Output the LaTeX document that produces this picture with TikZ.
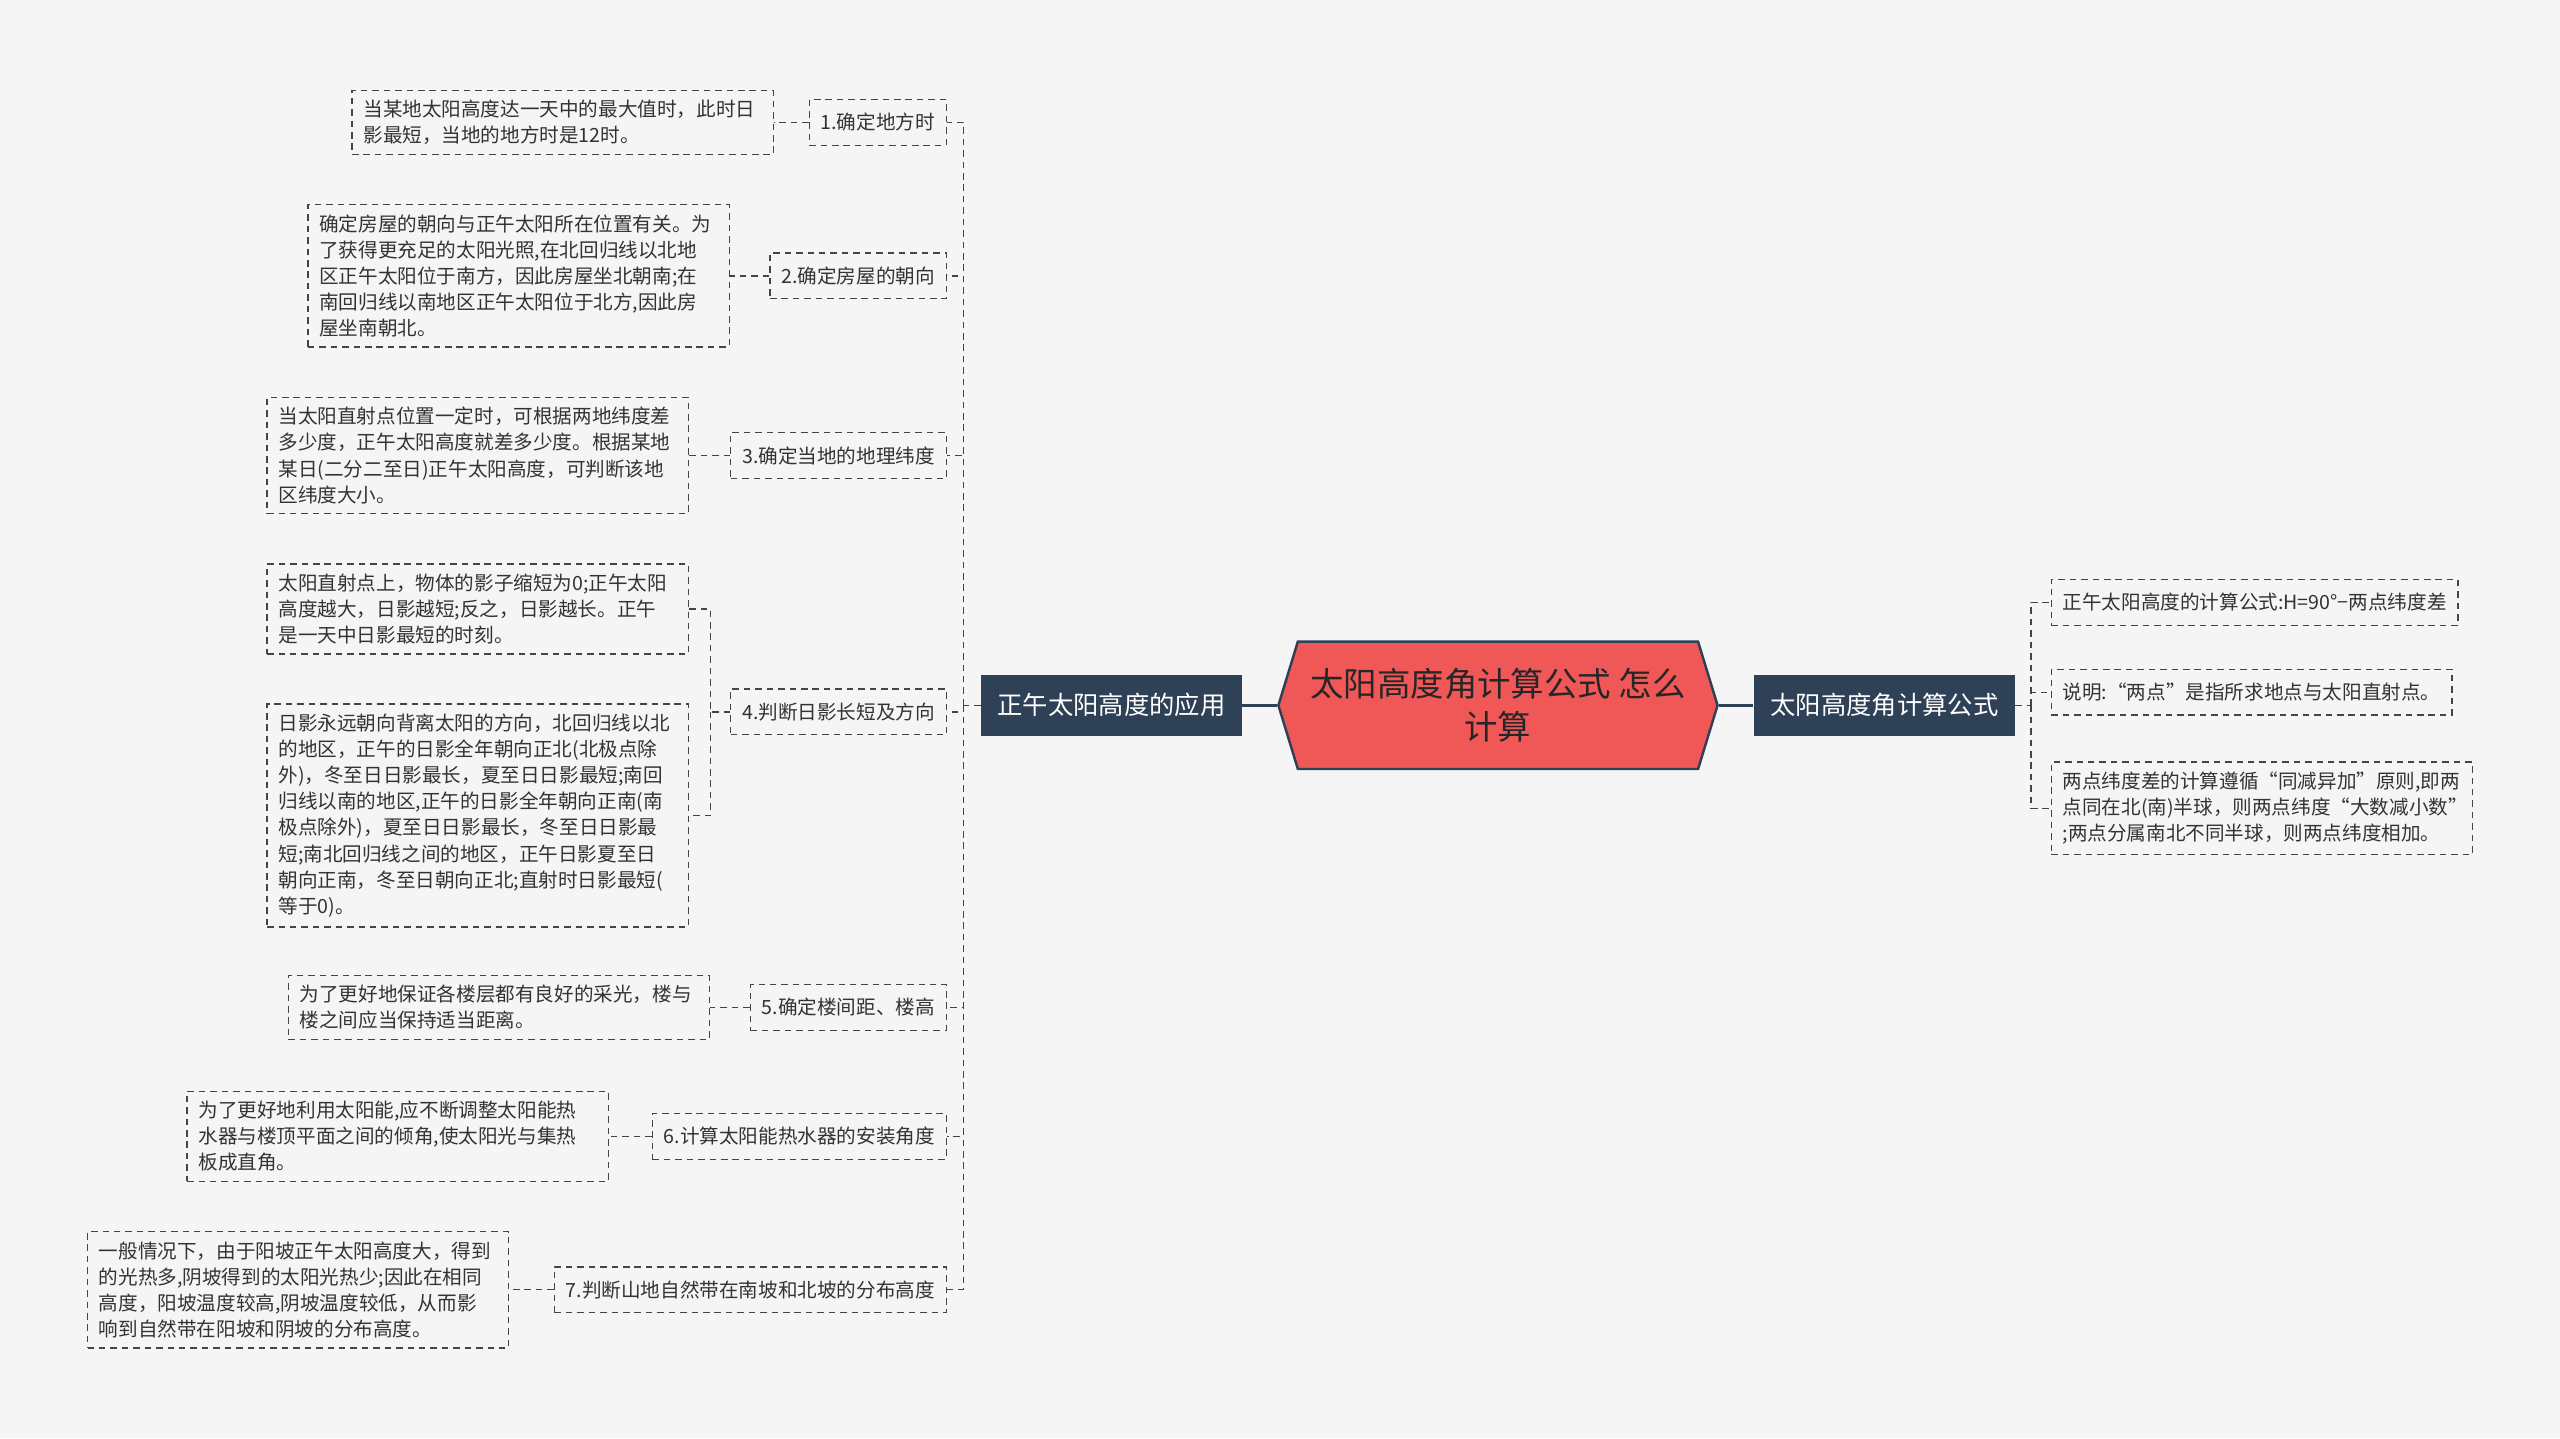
\documentclass[tikz,border=0pt]{standalone}
\usepackage{fontspec}
\setmainfont{Noto Sans CJK SC}
\usetikzlibrary{positioning,shapes.symbols}

\definecolor{bgcol}{HTML}{F5F5F5}
\definecolor{rootred}{HTML}{F05757}
\definecolor{navy}{HTML}{2E4156}
\definecolor{linegray}{HTML}{444444}

\begin{document}
\begin{tikzpicture}[
x=1pt, y=-1pt,
textbox/.style={
draw=linegray,
dash pattern=on 4pt off 3pt,
line width=0.8pt,
fill=bgcol,
text=black!80,
font=\fontsize{12}{16}\selectfont,
inner xsep=7pt,
inner ysep=6pt
},
itembox/.style={textbox, minimum height=28pt, anchor=east},
notebox/.style={textbox, text width=244pt, align=left, anchor=east},
rnotebox/.style={textbox, align=left, anchor=west},
mainbox/.style={
fill=navy,
text=white,
font=\fontsize{15.5}{18}\selectfont,
minimum width=160pt,
minimum height=37pt
},
rootbox/.style={
shape=signal,
signal to=west and east,
signal pointer angle=146,
fill=rootred,
draw=navy,
line width=1.5pt,
minimum width=269pt,
minimum height=78pt,
align=center,
font=\fontsize{20.5}{26}\selectfont,
text=black!85
},
link/.style={draw=linegray, dash pattern=on 4pt off 3pt, line width=0.8pt},
trunk/.style={draw=navy, line width=1.6pt}
]

\useasboundingbox[fill=bgcol] (0,0) rectangle (1568,881);

% centre and main branches
\node[rootbox] (root) at (917.5,432) {太阳高度角计算公式 怎么\\计算};
\node[mainbox, anchor=east] (app) at (761,432) {正午太阳高度的应用};
\node[mainbox, anchor=west] (calc) at (1074,432) {太阳高度角计算公式};

\draw[trunk] (root.west) -- (app.east);
\draw[trunk] (root.east) -- (calc.west);

% left items
\node[itembox] (i1) at (580,75) {1.确定地方时};
\node[itembox] (i2) at (580,169) {2.确定房屋的朝向};
\node[itembox] (i3) at (580,279) {3.确定当地的地理纬度};
\node[itembox] (i4) at (580,436) {4.判断日影长短及方向};
\node[itembox] (i5) at (580,617) {5.确定楼间距、楼高};
\node[itembox] (i6) at (580,696) {6.计算太阳能热水器的安装角度};
\node[itembox] (i7) at (580,790) {7.判断山地自然带在南坡和北坡的分布高度};

% left notes
\node[notebox] (d1) at (474,75) {当某地太阳高度达一天中的最大值时，此时日\\影最短，当地的地方时是12时。};
\node[notebox] (d2) at (447,169) {确定房屋的朝向与正午太阳所在位置有关。为\\了获得更充足的太阳光照,在北回归线以北地\\区正午太阳位于南方，因此房屋坐北朝南;在\\南回归线以南地区正午太阳位于北方,因此房\\屋坐南朝北。};
\node[notebox] (d3) at (422,279) {当太阳直射点位置一定时，可根据两地纬度差\\多少度，正午太阳高度就差多少度。根据某地\\某日(二分二至日)正午太阳高度，可判断该地\\区纬度大小。};
\node[notebox] (d4a) at (422,373) {太阳直射点上，物体的影子缩短为0;正午太阳\\高度越大，日影越短;反之，日影越长。正午\\是一天中日影最短的时刻。};
\node[notebox] (d4b) at (422,499.5) {日影永远朝向背离太阳的方向，北回归线以北\\的地区，正午的日影全年朝向正北(北极点除\\外)，冬至日日影最长，夏至日日影最短;南回\\归线以南的地区,正午的日影全年朝向正南(南\\极点除外)，夏至日日影最长，冬至日日影最\\短;南北回归线之间的地区，正午日影夏至日\\朝向正南，冬至日朝向正北;直射时日影最短(\\等于0)。};
\node[notebox] (d5) at (435,617) {为了更好地保证各楼层都有良好的采光，楼与\\楼之间应当保持适当距离。};
\node[notebox] (d6) at (373,696) {为了更好地利用太阳能,应不断调整太阳能热\\水器与楼顶平面之间的倾角,使太阳光与集热\\板成直角。};
\node[notebox] (d7) at (312,790) {一般情况下，由于阳坡正午太阳高度大，得到\\的光热多,阴坡得到的太阳光热少;因此在相同\\高度，阳坡温度较高,阴坡温度较低，从而影\\响到自然带在阳坡和阴坡的分布高度。};

% right notes
\node[rnotebox, minimum height=28pt] (r1) at (1256,369) {正午太阳高度的计算公式:H=90°−两点纬度差};
\node[rnotebox, minimum height=28pt] (r2) at (1256,424) {说明:“两点”是指所求地点与太阳直射点。};
\node[rnotebox, text width=244pt] (r3) at (1256,495) {两点纬度差的计算遵循“同减异加”原则,即两\\点同在北(南)半球，则两点纬度“大数减小数”\\;两点分属南北不同半球，则两点纬度相加。};

% left connectors
\coordinate (lt) at (590,432);
\draw[link] (app.west) -- (lt);
\foreach \n in {1,...,7} {
\draw[link] (lt) |- (i\n.east);
}
\foreach \n in {1,2,3,5,6,7} {
\draw[link] (i\n.west) -- (d\n.east);
}
\draw[link] (i4.west) -- ++(-12,0) coordinate (b4) |- (d4a.east);
\draw[link] (b4) |- (d4b.east);

% right connectors
\coordinate (rt) at (1244,432);
\draw[link] (calc.east) -- (rt);
\foreach \n in {1,2,3} {
\draw[link] (rt) |- (r\n.west);
}

\end{tikzpicture}
\end{document}
